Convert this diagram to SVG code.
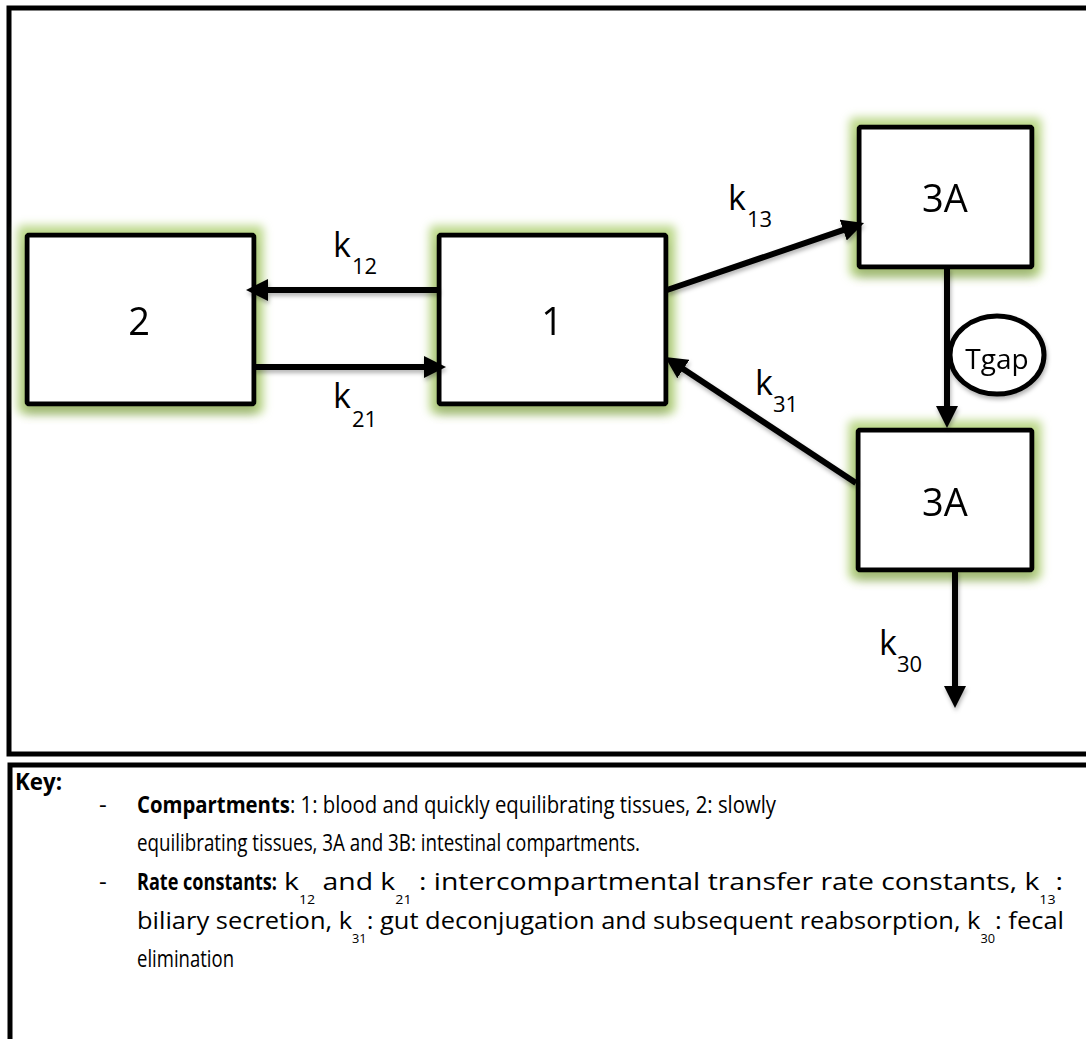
<svg xmlns="http://www.w3.org/2000/svg" width="1086" height="1039" viewBox="0 0 1086 1039">
  <style>
    .frame { fill: none; stroke: #000; stroke-width: 5; }
    .box { fill: #fff; stroke: #000; stroke-width: 5; }
    .lbl { font-family: "Open Sans", "Noto Sans", sans-serif; fill: #000; }
    .node-lbl { font-size: 38px; text-anchor: middle; }
    .k { font-size: 34px; }
    .ksub { font-size: 22px; }
    .edge { fill: none; stroke: #000; stroke-width: 6; }
    .key { font-family: "Open Sans", "Noto Sans", sans-serif; font-size: 24px; fill: #000; }
    .bold { font-weight: bold; }
    .sub { font-size: 12px; }
  </style>
  <defs>
    <marker id="head" viewBox="0 0 22 22" markerWidth="22" markerHeight="22" refX="2" refY="11" orient="auto" markerUnits="userSpaceOnUse">
      <path d="M0,0 L22,11 L0,22 z" fill="#000"/>
    </marker>
    <!-- soft green halo plus a faint drop shadow under each compartment -->
    <filter id="glow" x="-25%" y="-25%" width="150%" height="160%">
      <feMorphology in="SourceAlpha" operator="dilate" radius="7" result="grown"/>
      <feGaussianBlur in="grown" stdDeviation="5" result="halo"/>
      <feFlood flood-color="#bcd88a" flood-opacity="1"/>
      <feComposite in2="halo" operator="in" result="green"/>
      <feOffset in="SourceAlpha" dy="8" result="down"/>
      <feGaussianBlur in="down" stdDeviation="5" result="downBlur"/>
      <feFlood flood-color="#6f8448" flood-opacity="0.45"/>
      <feComposite in2="downBlur" operator="in" result="shadow"/>
      <feMerge>
        <feMergeNode in="green"/>
        <feMergeNode in="shadow"/>
        <feMergeNode in="SourceGraphic"/>
      </feMerge>
    </filter>
    <filter id="shade" x="-10%" y="-10%" width="120%" height="130%">
      <feOffset in="SourceAlpha" dx="1" dy="3" result="o"/>
      <feGaussianBlur in="o" stdDeviation="2" result="b"/>
      <feFlood flood-color="#000" flood-opacity="0.3"/>
      <feComposite in2="b" operator="in" result="s"/>
      <feMerge>
        <feMergeNode in="s"/>
        <feMergeNode in="SourceGraphic"/>
      </feMerge>
    </filter>
  </defs>

  <rect width="1086" height="1039" fill="#fff"/>

  <!-- model panel and key panel borders -->
  <g id="frames">
    <rect class="frame" x="9" y="8" width="1100" height="746"/>
    <rect class="frame" x="10" y="765" width="1100" height="300"/>
  </g>

  <g id="node-2" filter="url(#glow)">
    <rect class="box" x="27" y="235" width="227" height="169" rx="2"/>
    <text class="lbl node-lbl" x="139" y="335">2</text>
  </g>
  <g id="node-1" filter="url(#glow)">
    <rect class="box" x="439" y="235" width="227" height="169" rx="2"/>
    <text class="lbl node-lbl" x="552" y="335">1</text>
  </g>
  <g id="node-3a-top" filter="url(#glow)">
    <rect class="box" x="859" y="127" width="173" height="140" rx="2"/>
    <text class="lbl node-lbl" x="945" y="212">3A</text>
  </g>
  <g id="node-3a-bottom" filter="url(#glow)">
    <rect class="box" x="858" y="430" width="174" height="140" rx="2"/>
    <text class="lbl node-lbl" x="945" y="516">3A</text>
  </g>

  <g id="connectors" filter="url(#shade)">
    <path class="edge" d="M439,290 L266,290" marker-end="url(#head)"/>
    <path class="edge" d="M254,367 L426,367" marker-end="url(#head)"/>
    <path class="edge" d="M667,290 L845.1,229.4" marker-end="url(#head)"/>
    <path class="edge" d="M947,267 L947,408" marker-end="url(#head)"/>
    <path class="edge" d="M856,483 L681.7,368" marker-end="url(#head)"/>
    <path class="edge" d="M955,570 L955,688" marker-end="url(#head)"/>
  </g>

  <g id="tgap" filter="url(#shade)">
    <ellipse cx="997" cy="355" rx="47" ry="39" fill="#fff" stroke="#000" stroke-width="5"/>
    <text class="lbl" x="997" y="369" font-size="28" text-anchor="middle">Tgap</text>
  </g>

  <!-- rate constant labels -->
  <g id="rate-labels">
    <text class="lbl k" x="333" y="257">k</text><text class="lbl ksub" x="352" y="274">12</text>
    <text class="lbl k" x="333" y="408">k</text><text class="lbl ksub" x="352" y="427">21</text>
    <text class="lbl k" x="728" y="210">k</text><text class="lbl ksub" x="747" y="227">13</text>
    <text class="lbl k" x="755" y="395">k</text><text class="lbl ksub" x="773" y="412">31</text>
    <text class="lbl k" x="879" y="655">k</text><text class="lbl ksub" x="897" y="672">30</text>
  </g>

  <!-- legend text -->
  <g id="key">
    <text class="key bold" x="15" y="790" textLength="47" lengthAdjust="spacingAndGlyphs">Key:</text>
    <text class="key" x="99" y="813">-</text>
    <text class="key" x="137" y="813" textLength="639" lengthAdjust="spacingAndGlyphs"><tspan class="bold">Compartments</tspan>: 1: blood and quickly equilibrating tissues, 2: slowly</text>
    <text class="key" x="137" y="851" textLength="503" lengthAdjust="spacingAndGlyphs">equilibrating tissues, 3A and 3B: intestinal compartments.</text>
    <text class="key" x="99" y="890">-</text>
    <text class="key bold" x="137" y="890" textLength="140" lengthAdjust="spacingAndGlyphs">Rate constants:</text>
    <text class="key" x="284" y="890" textLength="779" lengthAdjust="spacingAndGlyphs">k<tspan class="sub" dy="14">12</tspan><tspan dy="-14"> and k</tspan><tspan class="sub" dy="14">21</tspan><tspan dy="-14"> : intercompartmental transfer rate constants, k</tspan><tspan class="sub" dy="14">13</tspan><tspan dy="-14">:</tspan></text>
    <text class="key" x="137" y="929" textLength="927" lengthAdjust="spacingAndGlyphs">biliary secretion, k<tspan class="sub" dy="14">31</tspan><tspan dy="-14">: gut deconjugation and subsequent reabsorption, k</tspan><tspan class="sub" dy="14">30</tspan><tspan dy="-14">: fecal</tspan></text>
    <text class="key" x="137" y="967" textLength="97" lengthAdjust="spacingAndGlyphs">elimination</text>
  </g>
</svg>
